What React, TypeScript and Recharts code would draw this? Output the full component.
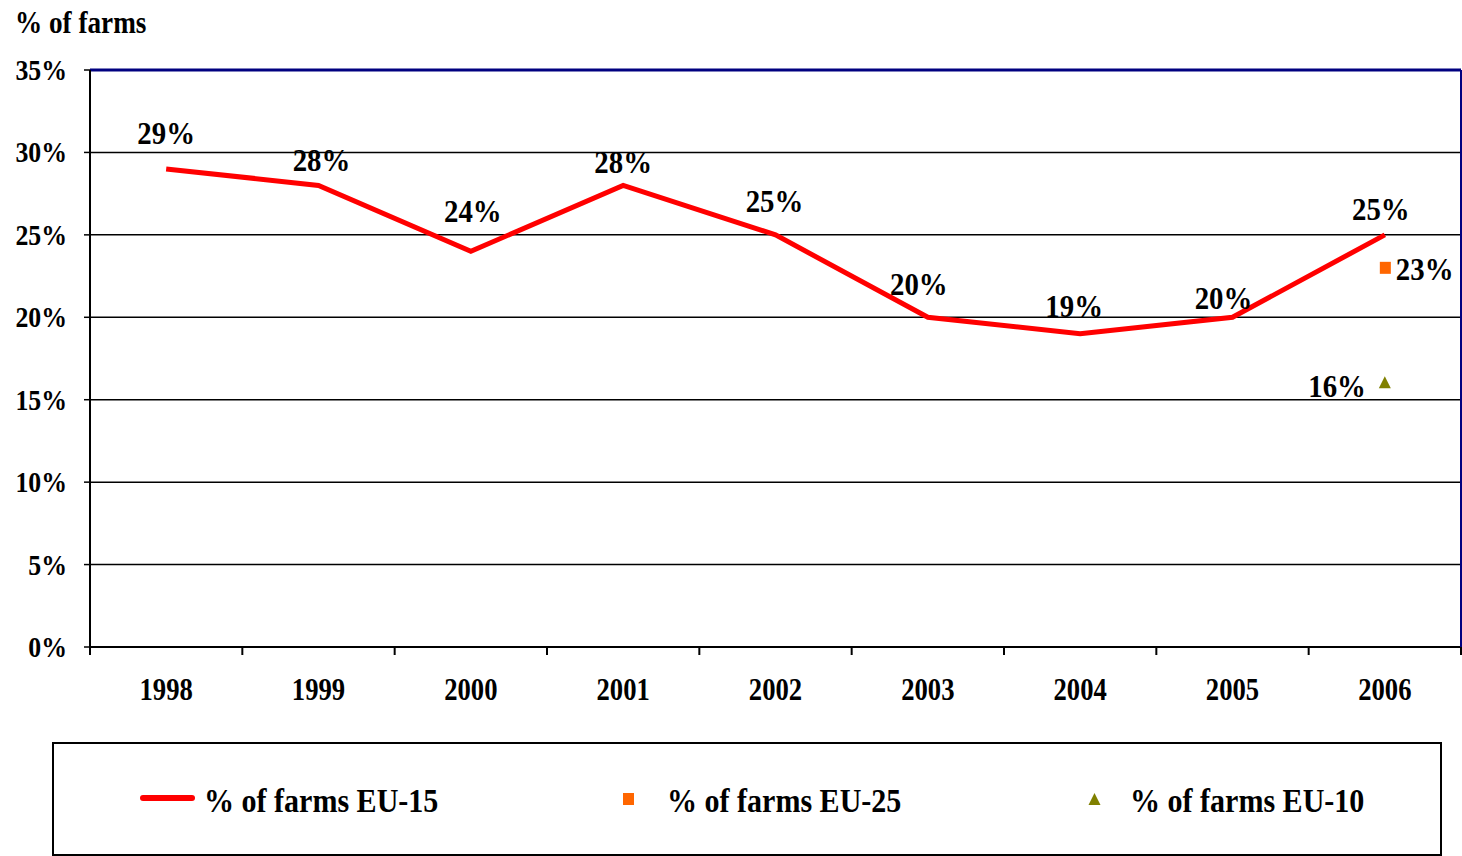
import {
  CartesianGrid,
  LabelList,
  Legend,
  Line,
  LineChart,
  ReferenceLine,
  XAxis,
  YAxis,
} from "recharts";

const years = ["1998", "1999", "2000", "2001", "2002", "2003", "2004", "2005", "2006"];
const farmsEU15 = [29, 28, 24, 28, 25, 20, 19, 20, 25];
const farmsEU25 = [null, null, null, null, null, null, null, null, 23];
const farmsEU10 = [null, null, null, null, null, null, null, null, 16];
const yTicks = [0, 5, 10, 15, 20, 25, 30, 35];
const seriesNames = ["% of farms EU-15", "% of farms EU-25", "% of farms EU-10"];

// small nudges so the EU-15 labels sit where the original put them
const eu15LabelDx = [0, 3, 2, 0, -1, -9, -6, -9, -4];
const eu15LabelLift = [25, 14, 29, 12, 23, 22, 17, 8, 15];

const data = years.map((year, i) => ({
  year,
  eu15: farmsEU15[i],
  eu25: farmsEU25[i],
  eu10: farmsEU10[i],
}));

const W = 1462;
const H = 856;
const LEFT = 90;
const PLOT_W = W - LEFT - 1;
const HALF_BAND = PLOT_W / years.length / 2;
const FONT = '"Liberation Serif", "Times New Roman", "DejaVu Serif", serif';
const RED = "#ff0000";
const ORANGE = "#ff6600";
const OLIVE = "#808000";
const NAVY = "#000080";

function SerifText({ x, y, size, scale, anchor = "middle", children }: any) {
  return (
    <text
      transform={`translate(${x},${y}) scale(${scale},1)`}
      textAnchor={anchor}
      style={{ fontFamily: FONT }}
      fontWeight="bold"
      fontSize={size}
      fill="#000"
    >
      {children}
    </text>
  );
}

function YTick({ x, y, payload }: any) {
  return (
    <SerifText x={x} y={y + 10} size={30} scale={0.86} anchor="end">
      {`${payload.value}%`}
    </SerifText>
  );
}

function XTick({ x, y, payload, index }: any) {
  return (
    <g>
      <line x1={x - HALF_BAND} y1={y} x2={x - HALF_BAND} y2={y + 8} stroke="#000" strokeWidth={2} />
      {index === years.length - 1 && (
        <line x1={x + HALF_BAND} y1={y} x2={x + HALF_BAND} y2={y + 8} stroke="#000" strokeWidth={2} />
      )}
      <SerifText x={x} y={y + 53} size={31} scale={0.86}>
        {payload.value}
      </SerifText>
    </g>
  );
}

const renderEu15Label = (props: any) => {
  const { x, y, value, index } = props;
  if (value == null) return null;
  return (
    <SerifText x={x + eu15LabelDx[index]} y={y - eu15LabelLift[index]} size={32} scale={0.9}>
      {`${value}%`}
    </SerifText>
  );
};

const renderEu25Label = (props: any) => {
  const { x, y, value } = props;
  if (value == null) return null;
  return (
    <SerifText x={x + 11} y={y + 12} size={32} scale={0.9} anchor="start">
      {`${value}%`}
    </SerifText>
  );
};

const renderEu10Label = (props: any) => {
  const { x, y, value } = props;
  if (value == null) return null;
  return (
    <SerifText x={x - 19} y={y + 14} size={32} scale={0.9} anchor="end">
      {`${value}%`}
    </SerifText>
  );
};

const SquareDot = (props: any) => {
  const { cx, cy, value, index } = props;
  if (cy == null || value == null) return <g key={`sq-${index}`} />;
  return <rect key={`sq-${index}`} x={cx - 5} y={cy - 6} width={11} height={12} fill={ORANGE} />;
};

const TriangleDot = (props: any) => {
  const { cx, cy, value, index } = props;
  if (cy == null || value == null) return <g key={`tr-${index}`} />;
  return (
    <path
      key={`tr-${index}`}
      d={`M${cx} ${cy - 7} L${cx + 6} ${cy + 5} L${cx - 6} ${cy + 5} Z`}
      fill={OLIVE}
    />
  );
};

const legendText = {
  position: "absolute" as const,
  top: 43,
  fontFamily: FONT,
  fontWeight: "bold" as const,
  fontSize: 33,
  lineHeight: 1,
  whiteSpace: "nowrap" as const,
  transform: "scaleX(0.91)",
  transformOrigin: "left",
  color: "#000",
};

function LegendBox() {
  return (
    <div style={{ position: "relative", width: W, height: 114 }}>
      <div
        style={{
          position: "absolute",
          left: 52,
          top: 0,
          width: 1390,
          height: 114,
          border: "2px solid #000",
          boxSizing: "border-box",
        }}
      />
      <div
        style={{ position: "absolute", left: 140, top: 53, width: 55, height: 6, background: RED, borderRadius: 3 }}
      />
      <span style={{ ...legendText, left: 204 }}>{seriesNames[0]}</span>
      <div style={{ position: "absolute", left: 623, top: 51, width: 11, height: 12, background: ORANGE }} />
      <span style={{ ...legendText, left: 667 }}>{seriesNames[1]}</span>
      <svg style={{ position: "absolute", left: 1088, top: 51 }} width={13} height={13}>
        <path d="M6.5 0 L12.5 12 L0.5 12 Z" fill={OLIVE} />
      </svg>
      <span style={{ ...legendText, left: 1130 }}>{seriesNames[2]}</span>
    </div>
  );
}

export default function App() {
  return (
    <div style={{ position: "absolute", left: 0, top: 0, width: W, height: H, background: "#fff" }}>
      <div
        style={{
          position: "absolute",
          left: 15,
          top: 6,
          fontFamily: FONT,
          fontWeight: "bold",
          fontSize: 32,
          lineHeight: 1,
          whiteSpace: "nowrap",
          transform: "scaleX(0.85)",
          transformOrigin: "left",
        }}
      >
        % of farms
      </div>
      <LineChart width={W} height={H} data={data} margin={{ top: 70, right: 0, left: 0, bottom: 0 }}>
        <CartesianGrid vertical={false} stroke="#000" strokeWidth={1.5} />
        <XAxis
          dataKey="year"
          interval={0}
          height={95}
          padding={{ left: HALF_BAND, right: HALF_BAND }}
          tickSize={0}
          tickMargin={0}
          tick={<XTick />}
          axisLine={{ stroke: "#000", strokeWidth: 2 }}
        />
        <YAxis
          width={LEFT}
          domain={[0, 35]}
          ticks={yTicks}
          tickSize={6}
          tickMargin={17}
          tick={<YTick />}
          tickLine={{ stroke: "#000", strokeWidth: 1.5 }}
          axisLine={{ stroke: "#000", strokeWidth: 2 }}
        />
        <YAxis
          yAxisId="r"
          orientation="right"
          width={1}
          domain={[0, 35]}
          tick={false}
          tickLine={false}
          axisLine={{ stroke: NAVY, strokeWidth: 2 }}
        />
        <ReferenceLine y={35} stroke={NAVY} strokeWidth={3} />
        <Legend verticalAlign="bottom" wrapperStyle={{ left: 0, width: W }} content={() => <LegendBox />} />
        <Line
          type="linear"
          dataKey="eu15"
          name={seriesNames[0]}
          stroke={RED}
          strokeWidth={5}
          dot={false}
          activeDot={false}
          isAnimationActive={false}
        >
          <LabelList dataKey="eu15" content={renderEu15Label} />
        </Line>
        <Line
          type="linear"
          dataKey="eu25"
          name={seriesNames[1]}
          stroke="none"
          dot={SquareDot}
          activeDot={false}
          isAnimationActive={false}
        >
          <LabelList dataKey="eu25" content={renderEu25Label} />
        </Line>
        <Line
          type="linear"
          dataKey="eu10"
          name={seriesNames[2]}
          stroke="none"
          dot={TriangleDot}
          activeDot={false}
          isAnimationActive={false}
        >
          <LabelList dataKey="eu10" content={renderEu10Label} />
        </Line>
      </LineChart>
    </div>
  );
}
